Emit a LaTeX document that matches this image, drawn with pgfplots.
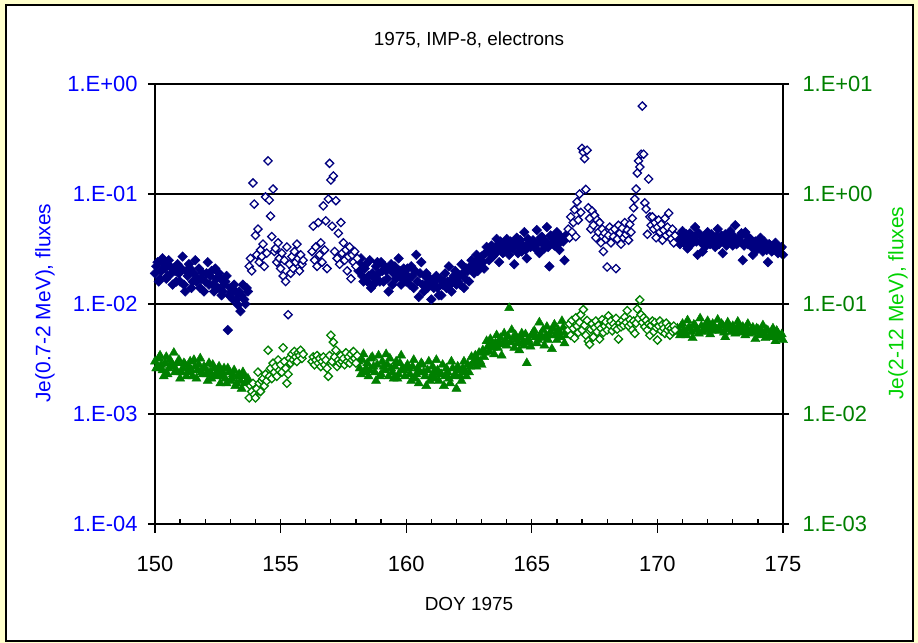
\documentclass[border=0pt]{standalone}
\usepackage{fontspec}
\setmainfont{Liberation Sans}
\usepackage{pgfplots}
\usepackage{pgfplotstable}
\pgfplotsset{compat=1.18}

\definecolor{bgyellow}{RGB}{255,255,204}
\definecolor{navyb}{RGB}{0,0,128}
\definecolor{darkg}{RGB}{0,128,0}
\definecolor{tickblue}{RGB}{0,0,255}
\definecolor{labgreen}{RGB}{0,210,0}

% columns: DOY, Je(0.7-2 MeV), Je(2-12 MeV)
% quiet periods (filled markers)
\pgfplotstableread{
x j1 j2
150.0 0.019 0.030
150.1 0.024 0.027
150.2 0.017 0.034
150.3 0.026 0.025
150.4 0.021 0.029
150.5 0.018 0.023
150.6 0.022 0.031
150.7 0.015 0.027
150.8 0.020 0.024
150.9 0.023 0.029
151.0 0.016 0.021
151.1 0.027 0.026
151.2 0.013 0.028
151.3 0.018 0.024
151.4 0.021 0.030
151.5 0.016 0.022
151.6 0.025 0.027
151.7 0.017 0.025
151.8 0.014 0.032
151.9 0.019 0.023
152.0 0.016 0.026
152.1 0.024 0.020
152.2 0.018 0.024
152.3 0.015 0.028
152.4 0.021 0.022
152.5 0.014 0.025
152.6 0.017 0.019
152.7 0.013 0.024
152.8 0.016 0.021
152.9 0.0058 0.026
153.0 0.014 0.020
153.1 0.011 0.023
153.2 0.013 0.018
153.3 0.0098 0.022
153.4 0.0086 0.020
153.5 0.015 0.024
153.6 0.010 0.019
153.7 0.013 0.021
150.05 0.022 0.026
150.15 0.016 0.032
150.25 0.020 0.028
150.35 0.023 0.022
150.45 0.017 0.033
150.55 0.025 0.026
150.65 0.019 0.029
150.75 0.021 0.036
150.85 0.016 0.025
150.95 0.019 0.031
151.05 0.021 0.024
151.15 0.015 0.029
151.25 0.020 0.022
151.35 0.023 0.027
151.45 0.014 0.025
151.55 0.019 0.031
151.65 0.016 0.021
151.75 0.021 0.028
151.85 0.017 0.024
151.95 0.013 0.027
152.05 0.019 0.023
152.15 0.015 0.029
152.25 0.020 0.021
152.35 0.013 0.026
152.45 0.017 0.023
152.55 0.019 0.027
152.65 0.012 0.022
152.75 0.015 0.026
152.85 0.018 0.019
152.95 0.012 0.024
153.05 0.013 0.021
153.15 0.015 0.025
153.25 0.011 0.019
153.35 0.013 0.023
153.45 0.012 0.017
153.55 0.011 0.022
153.65 0.014 0.020
}\qone

\pgfplotstableread{
x j1 j2
158.1 0.020 0.030
158.2 0.026 0.023
158.3 0.016 0.035
158.4 0.023 0.026
158.5 0.018 0.022
158.6 0.014 0.032
158.7 0.015 0.027
158.8 0.022 0.020
158.9 0.019 0.034
159.0 0.024 0.023
159.1 0.016 0.027
159.2 0.020 0.035
159.3 0.013 0.022
159.4 0.023 0.026
159.5 0.019 0.021
159.6 0.017 0.030
159.7 0.026 0.023
159.8 0.015 0.034
159.9 0.021 0.025
160.0 0.016 0.026
160.1 0.017 0.026
160.2 0.022 0.020
160.3 0.014 0.031
160.4 0.028 0.023
160.5 0.0116 0.019
160.6 0.024 0.029
160.7 0.013 0.024
160.8 0.019 0.018
160.9 0.016 0.030
161.0 0.011 0.022
161.1 0.014 0.024
161.2 0.018 0.031
161.3 0.012 0.020
161.4 0.012 0.023
161.5 0.016 0.018
161.6 0.014 0.026
161.7 0.022 0.021
161.8 0.013 0.030
161.9 0.018 0.022
162.0 0.015 0.017
162.1 0.018 0.025
162.2 0.023 0.020
162.3 0.014 0.030
162.4 0.021 0.022
162.5 0.016 0.024
162.6 0.025 0.033
162.7 0.019 0.030
162.8 0.028 0.027
162.9 0.022 0.036
163.0 0.027 0.028
163.1 0.021 0.033
163.2 0.033 0.046
163.3 0.025 0.037
163.4 0.034 0.043
163.5 0.028 0.035
163.6 0.039 0.052
163.7 0.024 0.045
163.8 0.035 0.034
163.9 0.030 0.054
164.0 0.039 0.042
164.1 0.028 0.092
164.2 0.035 0.058
164.3 0.023 0.040
164.4 0.040 0.047
164.5 0.033 0.038
164.6 0.030 0.054
164.7 0.045 0.042
164.8 0.026 0.029
164.9 0.036 0.045
165.0 0.034 0.052
165.1 0.036 0.057
165.2 0.047 0.044
165.3 0.029 0.068
165.4 0.041 0.049
165.5 0.032 0.042
165.6 0.050 0.062
165.7 0.022 0.052
165.8 0.040 0.039
165.9 0.034 0.065
166.0 0.045 0.047
166.1 0.031 0.055
166.2 0.038 0.070
166.3 0.025 0.044
166.4 0.043 0.052
158.15 0.023 0.026
158.25 0.018 0.031
158.35 0.021 0.024
158.45 0.016 0.029
158.55 0.025 0.025
158.65 0.019 0.033
158.75 0.017 0.024
158.85 0.024 0.028
158.95 0.016 0.022
159.05 0.020 0.030
159.15 0.022 0.025
159.25 0.017 0.028
159.35 0.021 0.032
159.45 0.015 0.024
159.55 0.022 0.027
159.65 0.018 0.021
159.75 0.020 0.029
159.85 0.017 0.026
159.95 0.019 0.022
160.05 0.021 0.028
160.15 0.015 0.023
160.25 0.018 0.027
160.35 0.020 0.021
160.45 0.016 0.026
160.55 0.019 0.024
160.65 0.015 0.028
160.75 0.018 0.022
160.85 0.014 0.025
160.95 0.017 0.020
161.05 0.015 0.027
161.15 0.016 0.021
161.25 0.014 0.025
161.35 0.017 0.023
161.45 0.015 0.028
161.55 0.019 0.022
161.65 0.016 0.024
161.75 0.015 0.019
161.85 0.017 0.026
161.95 0.020 0.023
162.05 0.016 0.027
162.15 0.015 0.022
162.25 0.019 0.026
162.35 0.017 0.024
162.45 0.020 0.028
162.55 0.022 0.027
162.65 0.021 0.029
162.75 0.024 0.034
162.85 0.020 0.031
162.95 0.025 0.030
163.05 0.024 0.038
163.15 0.029 0.036
163.25 0.030 0.041
163.35 0.031 0.048
163.45 0.027 0.040
163.55 0.033 0.044
163.65 0.031 0.040
163.75 0.037 0.049
163.85 0.029 0.043
163.95 0.034 0.047
164.05 0.031 0.051
164.15 0.037 0.045
164.25 0.032 0.049
164.35 0.036 0.052
164.45 0.029 0.044
164.55 0.038 0.050
164.65 0.034 0.046
164.75 0.031 0.053
164.85 0.039 0.048
164.95 0.033 0.041
165.05 0.038 0.055
165.15 0.032 0.050
165.25 0.036 0.047
165.35 0.040 0.053
165.45 0.035 0.058
165.55 0.037 0.051
165.65 0.033 0.047
165.75 0.042 0.056
165.85 0.036 0.060
165.95 0.039 0.052
166.05 0.035 0.058
166.15 0.041 0.050
166.25 0.037 0.061
166.35 0.040 0.056
}\qtwo

\pgfplotstableread{
x j1 j2
170.8 0.041 0.060
170.9 0.035 0.052
171.0 0.046 0.066
171.1 0.038 0.055
171.2 0.032 0.071
171.3 0.044 0.060
171.4 0.040 0.049
171.5 0.050 0.064
171.6 0.028 0.058
171.7 0.042 0.074
171.8 0.030 0.056
171.9 0.039 0.062
172.0 0.045 0.070
172.1 0.035 0.053
172.2 0.041 0.066
172.3 0.033 0.061
172.4 0.048 0.072
172.5 0.037 0.057
172.6 0.029 0.064
172.7 0.043 0.050
172.8 0.038 0.068
172.9 0.046 0.059
173.0 0.034 0.063
173.1 0.052 0.054
173.2 0.036 0.069
173.3 0.041 0.058
173.4 0.025 0.062
173.5 0.045 0.052
173.6 0.035 0.066
173.7 0.039 0.055
173.8 0.028 0.061
173.9 0.037 0.048
174.0 0.033 0.059
174.1 0.040 0.053
174.2 0.030 0.064
174.3 0.035 0.049
174.4 0.024 0.057
174.5 0.034 0.051
174.6 0.031 0.060
174.7 0.036 0.046
174.8 0.029 0.054
174.9 0.032 0.050
175.0 0.028 0.047
170.85 0.038 0.056
170.95 0.042 0.063
171.05 0.036 0.058
171.15 0.043 0.052
171.25 0.039 0.061
171.35 0.035 0.056
171.45 0.041 0.065
171.55 0.037 0.059
171.65 0.044 0.054
171.75 0.036 0.063
171.85 0.040 0.058
171.95 0.034 0.066
172.05 0.040 0.060
172.15 0.043 0.057
172.25 0.037 0.063
172.35 0.041 0.058
172.45 0.035 0.061
172.55 0.042 0.066
172.65 0.038 0.055
172.75 0.034 0.060
172.85 0.040 0.063
172.95 0.037 0.056
173.05 0.041 0.060
173.15 0.035 0.058
173.25 0.038 0.064
173.35 0.044 0.055
173.45 0.034 0.059
173.55 0.037 0.061
173.65 0.040 0.054
173.75 0.033 0.058
173.85 0.036 0.056
173.95 0.031 0.060
174.05 0.036 0.052
174.15 0.033 0.057
174.25 0.037 0.054
174.35 0.031 0.058
174.45 0.035 0.050
174.55 0.030 0.055
174.65 0.033 0.052
174.75 0.034 0.057
174.85 0.030 0.049
174.95 0.033 0.053
}\qthree

% disturbed periods (open markers)
\pgfplotstableread{
x j1 j2
153.75 0.022 0.014
153.80 0.026 0.018
153.85 0.020 0.016
153.90 0.126 0.019
153.95 0.081 0.015
154.00 0.042 0.014
154.05 0.028 0.017
154.10 0.048 0.024
154.15 0.024 0.019
154.20 0.031 0.016
154.25 0.027 0.020
154.30 0.035 0.021
154.35 0.022 0.018
154.40 0.094 0.023
154.45 0.029 0.020
154.50 0.200 0.038
154.55 0.088 0.022
154.60 0.063 0.026
154.65 0.041 0.021
154.70 0.111 0.029
154.75 0.030 0.024
154.80 0.032 0.027
154.85 0.024 0.022
154.90 0.036 0.031
154.95 0.026 0.025
155.00 0.021 0.028
155.05 0.029 0.024
155.10 0.018 0.040
155.15 0.025 0.030
155.20 0.016 0.026
155.25 0.033 0.019
155.30 0.0080 0.023
155.35 0.023 0.032
155.40 0.019 0.029
155.45 0.027 0.035
155.50 0.021 0.031
155.55 0.030 0.037
155.60 0.024 0.033
155.65 0.035 0.030
155.70 0.026 0.036
155.75 0.020 0.034
155.80 0.028 0.038
155.85 0.023 0.032
155.90 0.025 0.035
156.25 0.030 0.030
156.30 0.051 0.033
156.35 0.025 0.028
156.40 0.033 0.031
156.45 0.022 0.034
156.50 0.055 0.029
156.55 0.028 0.032
156.60 0.036 0.027
156.65 0.024 0.030
156.70 0.078 0.033
156.75 0.031 0.028
156.80 0.057 0.031
156.85 0.021 0.026
156.90 0.090 0.022
156.95 0.190 0.034
157.00 0.134 0.052
157.05 0.051 0.030
157.10 0.146 0.045
157.15 0.030 0.033
157.20 0.087 0.038
157.25 0.026 0.027
157.30 0.044 0.031
157.35 0.023 0.029
157.40 0.055 0.034
157.45 0.029 0.030
157.50 0.036 0.032
157.55 0.025 0.028
157.60 0.031 0.036
157.65 0.020 0.030
157.70 0.027 0.033
157.75 0.033 0.029
157.80 0.017 0.035
157.85 0.028 0.031
157.90 0.024 0.037
157.95 0.030 0.032
158.00 0.022 0.029
158.05 0.026 0.034
}\done

\pgfplotstableread{
x j1 j2
166.45 0.048 0.058
166.50 0.040 0.066
166.55 0.062 0.052
166.60 0.045 0.071
166.65 0.055 0.060
166.70 0.072 0.049
166.75 0.041 0.075
166.80 0.085 0.063
166.85 0.058 0.055
166.90 0.100 0.068
166.95 0.068 0.080
167.00 0.26 0.058
167.05 0.24 0.089
167.10 0.21 0.064
167.15 0.11 0.052
167.20 0.25 0.071
167.25 0.075 0.046
167.30 0.060 0.043
167.35 0.048 0.059
167.40 0.070 0.066
167.45 0.052 0.050
167.50 0.064 0.061
167.55 0.040 0.070
167.60 0.058 0.056
167.65 0.045 0.064
167.70 0.055 0.048
167.75 0.036 0.060
167.80 0.048 0.072
167.85 0.030 0.055
167.90 0.044 0.063
167.95 0.039 0.069
168.00 0.0217 0.058
168.05 0.042 0.078
168.10 0.050 0.064
168.15 0.036 0.070
168.20 0.046 0.057
168.25 0.041 0.066
168.30 0.048 0.061
168.35 0.021 0.074
168.40 0.039 0.059
168.45 0.052 0.048
168.50 0.044 0.067
168.55 0.035 0.062
168.60 0.049 0.071
168.65 0.040 0.064
168.70 0.055 0.076
168.75 0.043 0.068
168.80 0.047 0.087
168.85 0.038 0.063
168.90 0.053 0.072
168.95 0.045 0.066
169.00 0.060 0.058
169.05 0.075 0.070
169.10 0.090 0.054
169.15 0.111 0.067
169.20 0.155 0.090
169.25 0.200 0.074
169.30 0.176 0.109
169.35 0.230 0.080
169.40 0.630 0.068
169.45 0.230 0.075
169.50 0.083 0.062
169.55 0.073 0.071
169.60 0.043 0.058
169.65 0.137 0.066
169.70 0.062 0.052
169.75 0.052 0.064
169.80 0.062 0.070
169.85 0.048 0.056
169.90 0.055 0.068
169.95 0.040 0.061
170.00 0.050 0.047
170.05 0.058 0.063
170.10 0.045 0.070
170.15 0.053 0.057
170.20 0.038 0.065
170.25 0.047 0.060
170.30 0.060 0.054
170.35 0.042 0.067
170.40 0.050 0.058
170.45 0.067 0.062
170.50 0.044 0.052
170.55 0.039 0.060
170.60 0.048 0.056
170.65 0.036 0.063
170.70 0.042 0.058
}\dtwo

\pgfplotsset{
  bluefill/.style={only marks, mark=square*, mark size=3.4bp,
    mark options={rotate=45, fill=navyb, draw=navyb, line width=0.5bp}},
  blueopen/.style={only marks, mark=square*, mark size=2.9bp,
    mark options={rotate=45, fill=white, draw=navyb, line width=1.3bp}},
  greenfill/.style={only marks, mark=triangle*, mark size=5.3bp,
    mark options={fill=darkg, draw=darkg, line width=0.4bp}},
  greenopen/.style={only marks, mark=square*, mark size=2.9bp,
    mark options={rotate=45, fill=white, draw=darkg, line width=1.3bp}},
}

\begin{document}
\begin{tikzpicture}[x=1bp, y=1bp]
\fill[bgyellow] (-155,-119) rectangle (763,524);
\filldraw[fill=white, draw=black, line width=1.5bp] (-149,-117) rectangle (758,519);

\begin{axis}[
  scale only axis, width=628bp, height=440bp,
  at={(0,0)}, anchor=south west,
  xmin=150, xmax=175, ymode=log,
  ymin=1e-4, ymax=1,
  clip=false,
  axis x line*=bottom, axis y line*=left,
  axis line style={line width=1.5bp, -},
  tick style={black, line width=1.3bp},
  tick align=outside,
  yminorticks=false,
  /pgf/number format/assume math mode=true,
  tick label style={font=\fontsize{22}{24}\selectfont},
  xtick={150,155,...,175},
  xticklabel style={yshift=-15bp},
  minor x tick num=4,
  major tick length=14bp, minor tick length=5bp,
  major x tick style={yshift=5bp},
  minor x tick style={yshift=5bp},
  major y tick style={xshift=7bp},
  ytick={1e-4,1e-3,1e-2,1e-1,1},
  yticklabels={1.E-04,1.E-03,1.E-02,1.E-01,1.E+00},
  yticklabel style={color=tickblue},
  ymajorgrids, grid style={black, line width=1.6bp},
  title={1975, IMP-8, electrons},
  title style={at={(axis description cs:0.5,1.0864)}, anchor=center,
    font=\fontsize{19}{21}\selectfont},
  xlabel={DOY 1975},
  xlabel style={at={(axis description cs:0.5,-0.1818)}, anchor=center,
    font=\fontsize{19}{21}\selectfont},
  ylabel={Je(0.7-2 MeV), fluxes},
  ylabel style={at={(axis description cs:-0.1752,0.502)}, anchor=center,
    color=tickblue, font=\fontsize{21}{24}\selectfont},
]
\addplot[bluefill] table[x=x, y=j1] {\qone};
\addplot[bluefill] table[x=x, y=j1] {\qtwo};
\addplot[bluefill] table[x=x, y=j1] {\qthree};
\addplot[blueopen] table[x=x, y=j1] {\done};
\addplot[blueopen] table[x=x, y=j1] {\dtwo};
\end{axis}

\begin{axis}[
  scale only axis, width=628bp, height=440bp,
  at={(0,0)}, anchor=south west,
  xmin=150, xmax=175, ymode=log,
  ymin=1e-3, ymax=10,
  clip=false,
  axis x line=none, axis y line*=right,
  axis line style={line width=1.5bp, -},
  tick style={black, line width=1.3bp},
  tick align=outside,
  yminorticks=false,
  tick label style={font=\fontsize{22}{24}\selectfont},
  major tick length=6bp,
  ytick={1e-3,1e-2,1e-1,1,10},
  yticklabels={1.E-03,1.E-02,1.E-01,1.E+00,1.E+01},
  yticklabel style={color=darkg, xshift=10bp},
  ylabel={Je(2-12 MeV), fluxes},
  ylabel style={at={(axis description cs:1.1831,0.502)}, anchor=center,
    color=labgreen, font=\fontsize{21}{24}\selectfont},
]
\addplot[greenfill] table[x=x, y=j2] {\qone};
\addplot[greenfill] table[x=x, y=j2] {\qtwo};
\addplot[greenfill] table[x=x, y=j2] {\qthree};
\addplot[greenopen] table[x=x, y=j2] {\done};
\addplot[greenopen] table[x=x, y=j2] {\dtwo};
\end{axis}

\pgfresetboundingbox
\path (-155,-119) rectangle (763,524);
\end{tikzpicture}
\end{document}
